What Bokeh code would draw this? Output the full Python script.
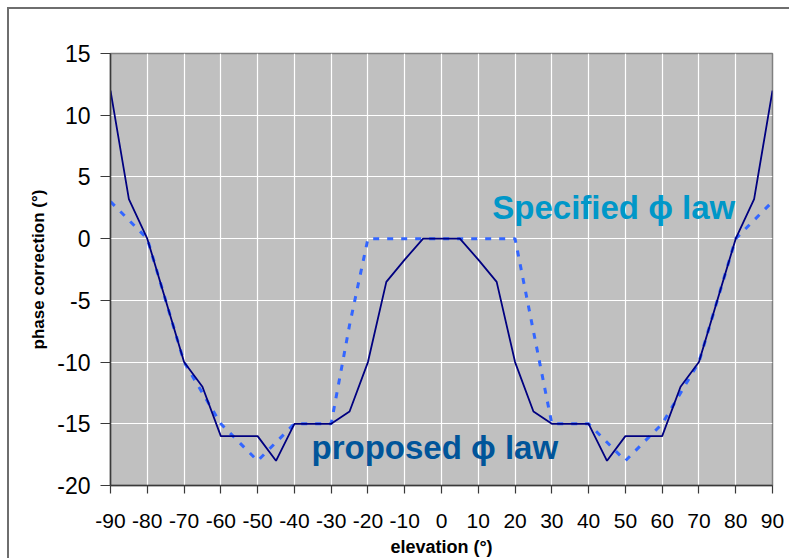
from bokeh.plotting import figure
from bokeh.models import Range1d, FixedTicker, Label
from bokeh.embed import file_html
from bokeh.resources import INLINE

# Elevation angles (degrees)
elevation = [-90, -85, -80, -75, -70, -65, -60, -55, -50, -45, -40, -35, -30,
             -25, -20, -15, -10, -5, 0, 5, 10, 15, 20, 25, 30, 35, 40, 45,
             50, 55, 60, 65, 70, 75, 80, 85, 90]

# Proposed phase-correction law (degrees)
proposed = [12, 3.2, 0, -5, -10, -12, -16, -16, -16, -18, -15, -15, -15,
            -14, -10, -3.5, -1.7, 0, 0, 0, -1.7, -3.5, -10, -14, -15, -15, -15, -18,
            -16, -16, -16, -12, -10, -5, 0, 3.2, 12]

# Specified phase-correction law (degrees)
specified = [3, 1.5, 0, -5, -10, -12.5, -15, -16.5, -18, -16.5, -15, -15, -15,
             -7, 0, 0, 0, 0, 0, 0, 0, 0, 0, -7.5, -15, -15, -15, -16.5,
             -18, -16.5, -15, -12.5, -10, -5, 0, 1.5, 3]

x_ticks = [-90, -80, -70, -60, -50, -40, -30, -20, -10, 0, 10, 20, 30, 40, 50, 60, 70, 80, 90]
x_tick_labels = ["-90", "-80", "-70", "-60", "-50", "-40", "-30", "-20", "-10", "0",
                 "10", "20", "30", "40", "50", "60", "70", "80", "90"]
y_ticks = [-20, -15, -10, -5, 0, 5, 10, 15]
y_tick_labels = ["-20", "-15", "-10", "-5", "0", "5", "10", "15"]

FONT = "Liberation Sans"

p = figure(width=782, height=551, output_backend="svg", toolbar_location=None,
           x_range=Range1d(-90, 90), y_range=Range1d(-20, 15),
           min_border_left=101, min_border_right=19, min_border_top=44, min_border_bottom=75,
           background_fill_color="#c0c0c0", border_fill_color="white",
           styles={"margin-left": "7px", "margin-top": "7px",
                   "border-top": "2px solid #6e6e6e", "border-left": "2px solid #6e6e6e"})

p.outline_line_color = "#808080"
p.outline_line_width = 1.5

# grid
p.xgrid.ticker = FixedTicker(ticks=x_ticks)
p.ygrid.ticker = FixedTicker(ticks=y_ticks)
for g in (p.xgrid, p.ygrid):
    g.grid_line_color = "white"
    g.grid_line_width = 1.2

# axes
p.xaxis.ticker = FixedTicker(ticks=x_ticks)
p.yaxis.ticker = FixedTicker(ticks=y_ticks)
p.xaxis.major_label_overrides = dict(zip(x_ticks, x_tick_labels))
p.yaxis.major_label_overrides = dict(zip(y_ticks, y_tick_labels))
for ax in (p.xaxis, p.yaxis):
    ax.axis_line_color = "#3a3a3a"
    ax.axis_line_width = 1.5
    ax.major_tick_line_color = "#3a3a3a"
    ax.major_tick_line_width = 1.2
    ax.major_tick_in = 0
    ax.minor_tick_line_color = None
    ax.major_label_text_font = FONT
    ax.major_label_text_color = "black"
    ax.axis_label_text_font = FONT
    ax.axis_label_text_font_style = "bold"
    ax.axis_label_text_color = "black"

p.xaxis.major_tick_out = 8
p.yaxis.major_tick_out = 10
p.xaxis.major_label_text_font_size = "21px"
p.yaxis.major_label_text_font_size = "23px"
p.xaxis.major_label_standoff = 20
p.yaxis.major_label_standoff = 10
p.xaxis.axis_label = "elevation (°)"
p.yaxis.axis_label = "phase correction (°)"
p.xaxis.axis_label_text_font_size = "18px"
p.yaxis.axis_label_text_font_size = "17px"
p.xaxis.axis_label_standoff = 6
p.yaxis.axis_label_standoff = 6

# laws
p.line(elevation, specified, line_color="#3366ff", line_width=3, line_dash="6 8")
p.line(elevation, proposed, line_color="#000080", line_width=1.8)

# annotations
p.add_layout(Label(x=13.8, y=2.5, text="Specified ϕ law", text_font=FONT,
                   text_font_style="bold", text_font_size="33px", text_color="#0097c8",
                   text_baseline="alphabetic", text_align="left"))
p.add_layout(Label(x=-35.35, y=-16.95, text="proposed ϕ law", text_font=FONT,
                   text_font_style="bold", text_font_size="33px", text_color="#00559a",
                   text_baseline="alphabetic", text_align="left"))

open("out.html", "w").write(file_html(p, INLINE))
